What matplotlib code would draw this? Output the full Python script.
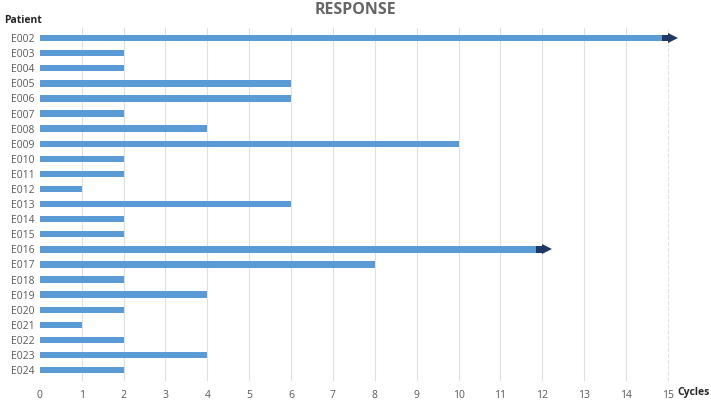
import matplotlib.pyplot as plt

# patients and number of cycles
patients = ['E002', 'E003', 'E004', 'E005', 'E006', 'E007', 'E008', 'E009',
            'E010', 'E011', 'E012', 'E013', 'E014', 'E015', 'E016', 'E017',
            'E018', 'E019', 'E020', 'E021', 'E022', 'E023', 'E024']
cycles = [15, 2, 2, 6, 6, 2, 4, 10, 2, 2, 1, 6, 2, 2, 12, 8, 2, 4, 2, 1, 2, 4, 2]
ongoing = ['E002', 'E016']   # still on treatment -> arrow
xticks = list(range(0, 16))

plt.rcParams['font.family'] = ['Open Sans', 'DejaVu Sans']

fig = plt.figure(figsize=(7.11, 4.03), dpi=100)
ax = fig.add_axes([0.056, 0.0556, 0.913, 0.876])

pos = list(range(len(patients)))
ax.barh(pos, cycles, height=0.42, color='#5b9bd5', zorder=3)

# arrowheads for ongoing patients: dark tail on the bar end + triangle
for p in ongoing:
    i = patients.index(p)
    ax.barh(i, 0.2, left=cycles[i] - 0.15, height=0.42, color='#1f3864', zorder=4)
    ax.plot(cycles[i] + 0.12, i, marker='>', markersize=7, color='#1f3864',
            markeredgewidth=0, zorder=5)

ax.set_xlim(0, 15.5)
ax.set_ylim(len(patients) - 0.3, -0.7)
ax.set_xticks(xticks)
ax.set_yticks(pos)
ax.set_yticklabels(patients)

# vertical gridlines, the last one dashed
for x in xticks[1:]:
    ax.axvline(x, color='#e0e0e0', lw=0.8, ls='--' if x == 15 else '-', zorder=1)

for s in ax.spines.values():
    s.set_visible(False)
ax.tick_params(length=0, labelsize=7.5, colors='#595959')
ax.tick_params(axis='x', pad=7)
ax.tick_params(axis='y', pad=4)

fig.text(0.5, 0.975, 'RESPONSE', ha='center', va='center', fontsize=11.5,
         fontweight='bold', color='#666666')
fig.text(0.006, 0.948, 'Patient', ha='left', va='center', fontsize=7.5,
         fontweight='bold', color='#262626')
fig.text(0.998, 0.027, 'Cycles', ha='right', va='center', fontsize=7.5,
         fontweight='bold', color='#262626')

fig.savefig('out.png', dpi=100)
